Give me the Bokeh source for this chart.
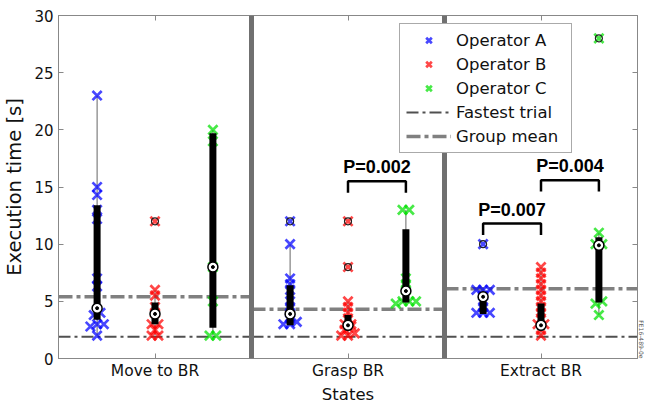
import numpy as np
from bokeh.plotting import figure
from bokeh.models import (Range1d, LinearAxis, FixedTicker, Span, Legend, LegendItem,
                          Title, CustomJSTickFormatter)
from bokeh.embed import file_html
from bokeh.resources import INLINE

# ---------------- data ----------------
states = ["Move to BR", "Grasp BR", "Extract BR"]
operators = ["Operator A", "Operator B", "Operator C"]

# individual trials [s]
move_a = [23, 15, 14.3, 13, 12.2, 7, 6.3, 4, 3.8, 3, 3, 2.8, 2]
move_b = [12, 6, 5.5, 4.5, 4, 3, 3, 2.5, 2, 2]
move_c = [20, 19, 8, 5, 2, 2]
grasp_a = [12, 10, 7, 6.5, 6, 5, 4.5, 4, 3.5, 3.2, 3, 3]
grasp_b = [12, 8, 5, 4.5, 4, 3.5, 3, 3, 2.8, 2.5, 2.2, 2, 2]
grasp_c = [13, 13, 7, 6.5, 6, 5, 5, 5, 4.8]
extract_a = [10, 6, 6, 6, 5.5, 5, 4.5, 4, 4, 4]
extract_b = [8, 7.5, 7, 6.5, 6, 5.5, 5, 4.5, 4, 3.5, 3, 3, 2.5, 2]
extract_c = [28, 11, 10, 10, 5, 4.8, 3.8]

# box statistics per state, for operators A, B, C
move_q1 = [3.4, 3.0, 2.7]
move_med = [4.4, 3.9, 8.0]
move_q3 = [13.4, 4.9, 19.7]
move_wlo = [2.0, 2.0, 2.0]
move_whi = [23.0, 6.0, 20.0]

grasp_q1 = [2.9, 2.9, 4.9]
grasp_med = [3.9, 2.9, 5.9]
grasp_q3 = [6.4, 3.8, 11.3]
grasp_wlo = [3.0, 2.0, 4.8]
grasp_whi = [10.0, 5.0, 13.0]

extract_q1 = [3.9, 2.9, 4.9]
extract_med = [5.4, 2.9, 9.9]
extract_q3 = [5.7, 4.8, 10.6]
extract_wlo = [4.0, 2.0, 3.8]
extract_whi = [6.0, 8.0, 11.0]

group_mean = [5.4, 4.3, 6.1]
fastest_trial = [1.9, 1.9, 1.9]

p_labels = ["P=0.002", "P=0.007", "P=0.004"]
p_state = ["Grasp BR", "Extract BR", "Extract BR"]
p_from = ["Operator B", "Operator A", "Operator B"]
p_to = ["Operator C", "Operator B", "Operator C"]
p_height = [15.5, 11.8, 15.6]

x_title = "States"
y_title = "Execution time [s]"
figure_id = "FE16-489-0e"

trials = {
    "Move to BR": [move_a, move_b, move_c],
    "Grasp BR": [grasp_a, grasp_b, grasp_c],
    "Extract BR": [extract_a, extract_b, extract_c],
}
stats = {
    "Move to BR": (move_q1, move_med, move_q3, move_wlo, move_whi),
    "Grasp BR": (grasp_q1, grasp_med, grasp_q3, grasp_wlo, grasp_whi),
    "Extract BR": (extract_q1, extract_med, extract_q3, extract_wlo, extract_whi),
}

# ---------------- styling ----------------
op_colors = ["#0000ff", "#ff0000", "#00e000"]
FONT = "DejaVu Sans"
OFFSET = 0.3


def xpos(state, op):
    return states.index(state) + 0.5 + (operators.index(op) - 1) * OFFSET


def spread(vals, tol=0.3, step=0.035):
    offs = [0.0] * len(vals)
    order = sorted(range(len(vals)), key=lambda k: vals[k])
    clusters = []
    for k in order:
        if clusters and vals[k] - vals[clusters[-1][0]] < tol:
            clusters[-1].append(k)
        else:
            clusters.append([k])
    for c in clusters:
        n = len(c)
        for j, k in enumerate(c):
            offs[k] = (j - (n - 1) / 2) * step
    return offs


p = figure(width=646, height=403, x_range=Range1d(0, len(states)), y_range=Range1d(0, 30),
           output_backend="svg", toolbar_location=None,
           min_border_left=58, min_border_top=15, min_border_right=9, min_border_bottom=45)
p.grid.visible = False
p.outline_line_color = "#888888"
p.background_fill_color = "white"
p.border_fill_color = "white"

# axes
p.xaxis.ticker = FixedTicker(ticks=[i + 0.5 for i in range(len(states))])
p.xaxis.major_label_overrides = {i + 0.5: s for i, s in enumerate(states)}
p.yaxis.ticker = FixedTicker(ticks=list(range(0, 31, 5)))
p.yaxis.axis_label = y_title
for ax in (p.xaxis, p.yaxis):
    ax.major_tick_in = 5
    ax.major_tick_out = 0
    ax.minor_tick_line_color = None
    ax.axis_line_color = "#888888"
    ax.major_tick_line_color = "#888888"
    ax.major_label_text_font = FONT
    ax.major_label_text_color = "#111111"
    ax.axis_label_text_font = FONT
    ax.axis_label_text_font_style = "normal"
    ax.axis_label_text_color = "#111111"
p.yaxis.axis_label_text_line_height = 1.0
p.xaxis.major_label_text_font_size = "15.5px"
p.yaxis.major_label_text_font_size = "15px"
p.yaxis.axis_label_text_font_size = "19.5px"
p.xaxis.major_label_standoff = 3
p.yaxis.major_label_standoff = 5
p.yaxis.axis_label_standoff = 5

blank = CustomJSTickFormatter(code="return ''")
top_ax = LinearAxis(ticker=FixedTicker(ticks=[i + 0.5 for i in range(len(states))]),
                    formatter=blank, major_tick_in=5, major_tick_out=0,
                    minor_tick_line_color=None, axis_line_color="#888888",
                    major_tick_line_color="#888888", major_label_standoff=0,
                    major_label_text_font_size="1px")
right_ax = LinearAxis(ticker=FixedTicker(ticks=list(range(0, 31, 5))),
                      formatter=blank, major_tick_in=5, major_tick_out=0,
                      minor_tick_line_color=None, axis_line_color="#888888",
                      major_tick_line_color="#888888", major_label_standoff=0,
                      major_label_text_font_size="1px")
p.add_layout(top_ax, "above")
p.add_layout(right_ax, "right")

# x-axis title as a title below the tick labels
p.add_layout(Title(text=x_title, align="center", text_font=FONT, text_font_size="16.5px",
                   text_font_style="normal", text_color="#111111", standoff=0, offset=0),
             "below")
# small figure id at the right edge
p.add_layout(Title(text=figure_id, align="right", text_font=FONT, text_font_size="6px",
                   text_font_style="normal", text_color="#555555", standoff=0, offset=0),
             "right")

# reference lines per state
seg_x0 = [float(i) for i in range(len(states))]
seg_x1 = [float(i + 1) for i in range(len(states))]
fast_r = p.segment(x0=seg_x0, x1=seg_x1, y0=fastest_trial, y1=fastest_trial,
                   line_color="#505050", line_width=2, line_dash="12 4 3 4")
mean_r = p.segment(x0=seg_x0, x1=seg_x1, y0=group_mean, y1=group_mean,
                   line_color="#808080", line_width=3.5, line_dash="14 4 4 4")

# separators
for i in range(1, len(states)):
    p.add_layout(Span(location=i, dimension="height", line_color="#707070", line_width=5))

# per-operator boxes
legend_markers = [None] * len(operators)
for s in states:
    q1, med, q3, wlo, whi = stats[s]
    for j, op in enumerate(operators):
        x = xpos(s, op)
        vals = trials[s][j]
        offs = spread(vals)
        xs = [x + o for o in offs]
        # whisker
        p.segment(x0=[x], x1=[x], y0=[wlo[j]], y1=[whi[j]], line_color="#666666", line_width=1)
        # crosses
        r = p.scatter(xs, vals, marker="x", size=13, line_color=op_colors[j],
                      line_width=2.7, line_alpha=0.72)
        if legend_markers[j] is None:
            legend_markers[j] = r
        # outliers
        ox = [xx for xx, v in zip(xs, vals) if v < wlo[j] or v > whi[j]]
        oy = [v for v in vals if v < wlo[j] or v > whi[j]]
        if oy:
            p.scatter(ox, oy, marker="circle", size=7, fill_alpha=0,
                      line_color="#222222", line_width=1.2)
        # box
        p.segment(x0=[x], x1=[x], y0=[q1[j]], y1=[q3[j]], line_color="black",
                  line_width=7, line_cap="butt")
        # median
        p.scatter([x], [med[j]], marker="circle", size=10, fill_color="white",
                  line_color="black", line_width=1.5)
        p.scatter([x], [med[j]], marker="circle", size=3, fill_color="black",
                  line_color="black")

# significance brackets
drop = 1.0
for lab, s, a, b, h in zip(p_labels, p_state, p_from, p_to, p_height):
    xa, xb = xpos(s, a), xpos(s, b)
    p.line([xa, xa, xb, xb], [h - drop, h, h, h - drop], line_color="black", line_width=2.5)
    p.text([(xa + xb) / 2], [h + 0.35], text=[lab], text_align="center",
           text_baseline="bottom", text_font={"value": "Liberation Sans"},
           text_font_size={"value": "18px"}, text_font_style="bold", text_color="black")

# legend
items = [LegendItem(label=op, renderers=[r]) for op, r in zip(operators, legend_markers)]
items.append(LegendItem(label="Fastest trial", renderers=[fast_r]))
items.append(LegendItem(label="Group mean", renderers=[mean_r]))
legend = Legend(items=items, location=(341, 205), label_text_font=FONT,
                label_text_font_size="16.5px", label_text_color="#111111",
                border_line_color="#555555", border_line_width=1,
                background_fill_color="white", background_fill_alpha=1,
                padding=6, spacing=4, glyph_width=45, glyph_height=20,
                label_standoff=5, margin=0, label_height=20, label_width=109)
p.add_layout(legend, "center")

open("out.html", "w").write(file_html(p, INLINE))
